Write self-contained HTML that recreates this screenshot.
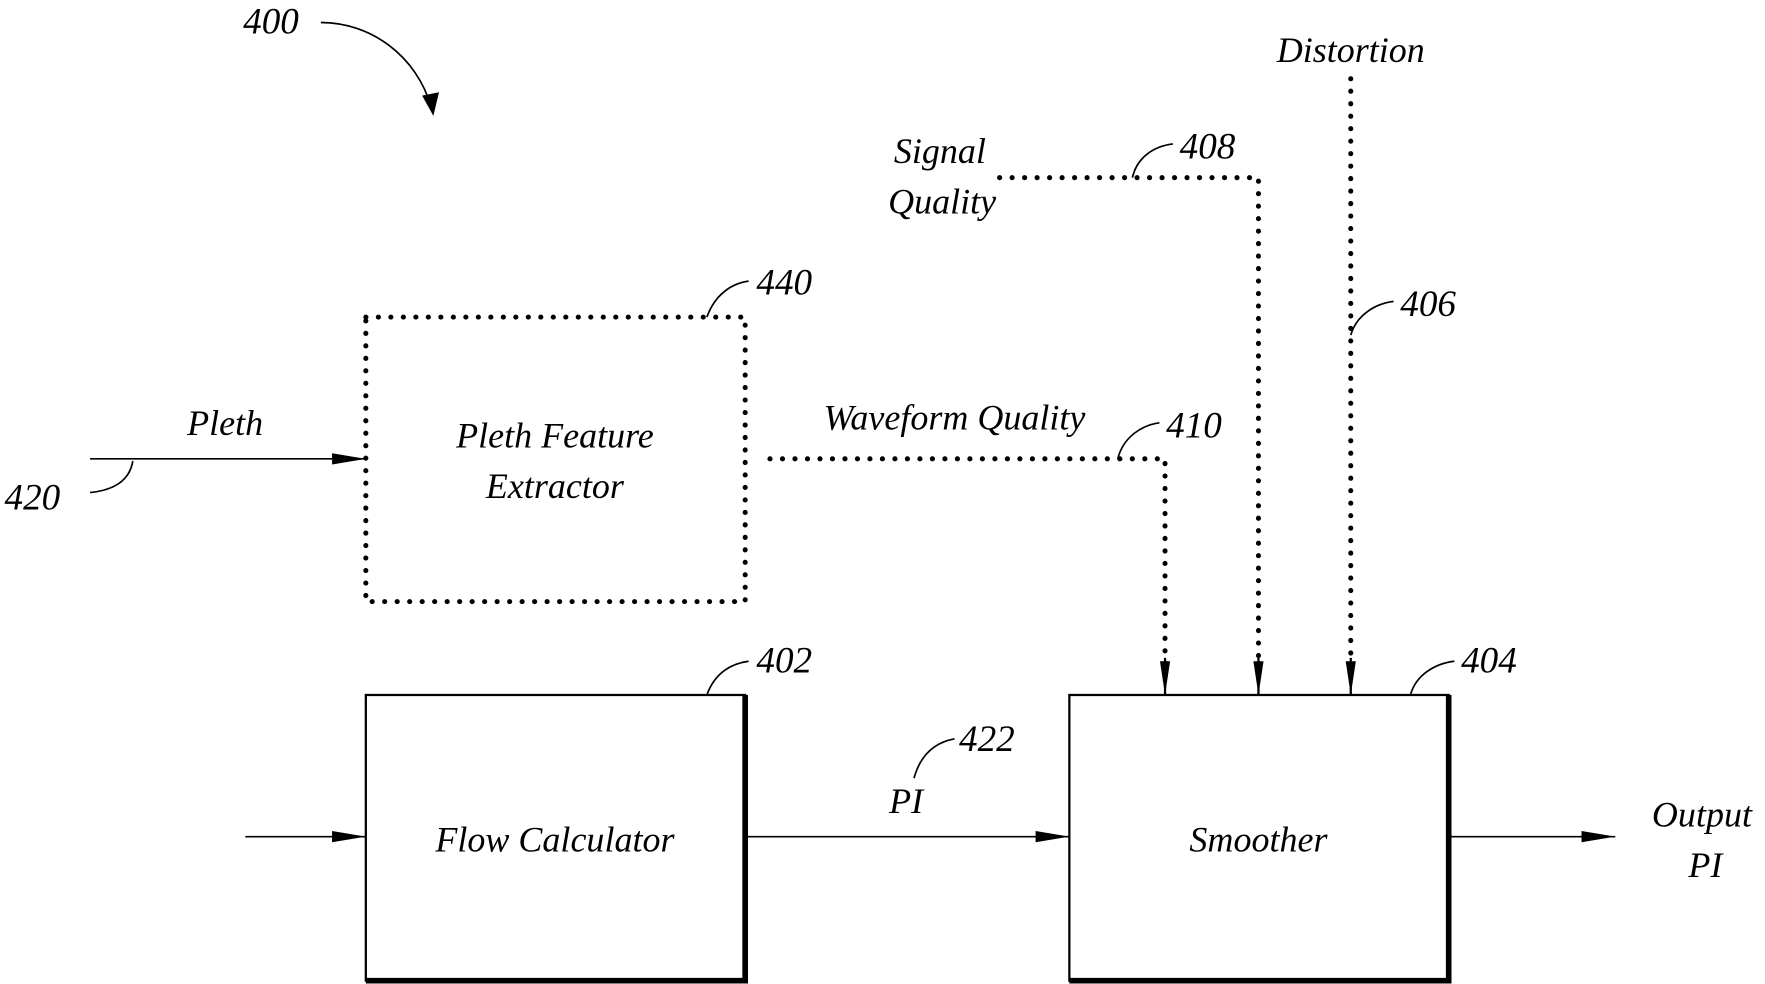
<!DOCTYPE html>
<html><head><meta charset="utf-8"><style>html,body{margin:0;padding:0;background:#fff;}svg{display:block}</style></head>
<body>
<svg width="1765" height="984" viewBox="0 0 1568 875" preserveAspectRatio="none" xmlns="http://www.w3.org/2000/svg">
<defs>
<marker id="ah" markerWidth="30" markerHeight="12" refX="30" refY="6" orient="auto" markerUnits="userSpaceOnUse">
<path d="M0,1 L30,6 L0,11 Z" fill="#000"/></marker>
<marker id="ad" markerWidth="30" markerHeight="12" refX="30" refY="6" orient="auto" markerUnits="userSpaceOnUse">
<path d="M0,1.5 L30,6 L0,10.5 Z" fill="#000"/></marker>
</defs>
<g font-family="Liberation Serif, serif" font-style="italic" fill="#000">
<rect x="325" y="618" width="337" height="254" fill="none" stroke="#000" stroke-width="2"/>
<path d="M662,618 V872 H325" fill="none" stroke="#000" stroke-width="5"/>
<rect x="950" y="618" width="337" height="254" fill="none" stroke="#000" stroke-width="2"/>
<path d="M1287,618 V872 H950" fill="none" stroke="#000" stroke-width="5"/>
<rect x="325" y="282" width="337" height="253" fill="none" stroke="#000" stroke-width="4.5" stroke-dasharray="0.1 11" stroke-linecap="round"/>
<line x1="218" y1="744" x2="325" y2="744" stroke="#000" stroke-width="1.5" marker-end="url(#ah)"/>
<line x1="662" y1="744" x2="950" y2="744" stroke="#000" stroke-width="1.5" marker-end="url(#ah)"/>
<line x1="1287" y1="744" x2="1435" y2="744" stroke="#000" stroke-width="1.5" marker-end="url(#ah)"/>
<line x1="80" y1="408" x2="325" y2="408" stroke="#000" stroke-width="1.5" marker-end="url(#ah)"/>
<g fill="none" stroke="#000" stroke-width="4.5" stroke-dasharray="0.1 11" stroke-linecap="round">
<path d="M684,408 H1035 V590"/>
<path d="M888,158 H1118 V590"/>
<path d="M1200,70 V590"/>
</g>
<g stroke="#000" stroke-width="2">
<line x1="1035" y1="585" x2="1035" y2="618" marker-end="url(#ad)"/>
<line x1="1118" y1="585" x2="1118" y2="618" marker-end="url(#ad)"/>
<line x1="1200" y1="585" x2="1200" y2="618" marker-end="url(#ad)"/>
</g>
<g fill="none" stroke="#000" stroke-width="1.5">
<path d="M285,20 C330,20 370,50 383,95"/>
<path d="M628,282 C635,262 650,252 665,250"/>
<path d="M628,618 C635,598 650,590 665,588"/>
<path d="M1253,618 C1258,600 1275,590 1292,588"/>
<path d="M1200,298 C1205,280 1222,270 1238,268"/>
<path d="M1006,158 C1010,140 1025,130 1042,128"/>
<path d="M993,408 C998,388 1015,378 1030,376"/>
<path d="M812,692 C818,670 832,660 848,657"/>
<path d="M118,410 C115,428 100,436 80,438"/>
</g>
<path d="M375,85 L385,103 L390,82 Z" fill="#000"/>
<g font-size="32">
<text x="493" y="398" text-anchor="middle">Pleth Feature</text>
<text x="493" y="443" text-anchor="middle">Extractor</text>
<text x="493" y="757" text-anchor="middle">Flow Calculator</text>
<text x="1118" y="757" text-anchor="middle">Smoother</text>
<text x="200" y="387" text-anchor="middle">Pleth</text>
<text x="848" y="382" text-anchor="middle">Waveform Quality</text>
<text x="835" y="145" text-anchor="middle">Signal</text>
<text x="837" y="190" text-anchor="middle">Quality</text>
<text x="1200" y="55" text-anchor="middle">Distortion</text>
<text x="805" y="723" text-anchor="middle">PI</text>
<text x="1512" y="735" text-anchor="middle">Output</text>
<text x="1515" y="780" text-anchor="middle">PI</text>
</g>
<g font-size="33">
<text x="216" y="30">400</text>
<text x="672" y="262">440</text>
<text x="672" y="598">402</text>
<text x="1298" y="598">404</text>
<text x="1244" y="281">406</text>
<text x="1048" y="141">408</text>
<text x="1036" y="389">410</text>
<text x="852" y="668">422</text>
<text x="4" y="453">420</text>
</g>
</g>
</svg>
</body></html>
